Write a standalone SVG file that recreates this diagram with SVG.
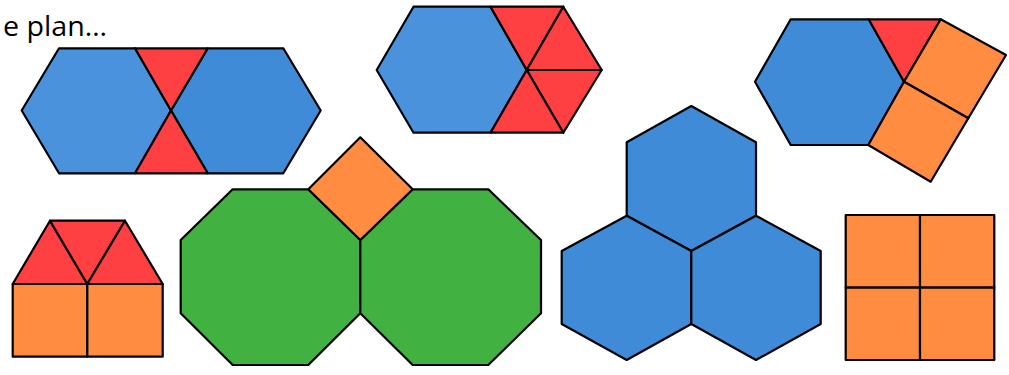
<svg xmlns="http://www.w3.org/2000/svg" width="1009" height="375" viewBox="0 0 1009 375">
<style>
  polygon { stroke: #000; stroke-width: 2.2; stroke-linejoin: round; }
  .b1 { fill: #4A93DC; }
  .b2 { fill: #408BD7; }
  .r { fill: #FF4043; }
  .o { fill: #FF8C40; }
  .g { fill: #41B241; }
  text { font-family: "Open Sans", "Liberation Sans", Arial, sans-serif; font-size: 27px; fill: #000; }
</style>
<rect width="1009" height="375" fill="#fff"/>
<text x="3" y="36" textLength="104" lengthAdjust="spacingAndGlyphs">e plan…</text>

<g id="hex-pair">
  <polygon class="b1" points="21.7,110.5 59,48.3 135,48.3 171,110.5 135,173.3 59,173.3"/>
  <polygon class="b2" points="171,110.5 207.7,48.3 283.3,48.3 320.7,110.5 283.3,173.3 207.7,173.3"/>
  <polygon class="r" points="135,48.3 207.7,48.3 171,110.5"/>
  <polygon class="r" points="135,173.3 207.7,173.3 171,110.5"/>
</g>

<g id="hex-triangles">
  <polygon class="b1" points="376.7,70 413.5,6.7 490.5,6.7 526.7,70 490.5,132.7 413.5,132.7"/>
  <polygon class="r" points="490.5,6.7 563.3,6.7 526.7,70"/>
  <polygon class="r" points="563.3,6.7 601.7,70 526.7,70"/>
  <polygon class="r" points="601.7,70 563.3,132.7 526.7,70"/>
  <polygon class="r" points="563.3,132.7 490.5,132.7 526.7,70"/>
</g>

<g id="hex-squares">
  <polygon class="b2" points="755,81.7 790.7,19.3 868.7,19.3 904,81.7 868.3,145 790.7,145"/>
  <polygon class="r" points="868.7,19.3 940.7,19.3 904,81.7"/>
  <polygon class="o" points="904,81.7 940.7,19.3 1006,55 968.3,118.3"/>
  <polygon class="o" points="904,81.7 968.3,118.3 930.7,181.7 868.3,145"/>
</g>

<g id="house">
  <polygon class="r" points="12.7,284 50,220.7 87.3,284"/>
  <polygon class="r" points="50,220.7 125,220.7 87.3,284"/>
  <polygon class="r" points="87.3,284 125,220.7 162.7,284"/>
  <polygon class="o" points="12.7,284 87.3,284 87.3,356.7 12.7,356.7"/>
  <polygon class="o" points="87.3,284 162.7,284 162.7,356.7 87.3,356.7"/>
</g>

<g id="octagons">
  <polygon class="g" points="232.7,189.3 308.3,189.3 360.3,240 360.3,313.3 308.3,365 232.7,365 180.7,313.3 180.7,240"/>
  <polygon class="g" points="412.7,189.3 488.3,189.3 541,240 541,313.3 488.3,365 412.7,365 360.3,313.3 360.3,240"/>
  <polygon class="o" points="360.3,137.3 412.7,189.3 360.3,240 308.3,189.3"/>
</g>

<g id="hex-triple">
  <polygon class="b2" points="691.3,106 756,142.3 756,215.7 691.3,251 626.7,215.7 626.7,142.3"/>
  <polygon class="b2" points="626.7,215.7 691.3,251 691.3,324 626.7,360 561.7,324 561.7,251"/>
  <polygon class="b2" points="756,215.7 820.7,251 820.7,324 756,360 691.3,324 691.3,251"/>
</g>

<g id="square-grid">
  <polygon class="o" points="845.7,215 920,215 920,287.7 845.7,287.7"/>
  <polygon class="o" points="920,215 994.3,215 994.3,287.7 920,287.7"/>
  <polygon class="o" points="845.7,287.7 920,287.7 920,360 845.7,360"/>
  <polygon class="o" points="920,287.7 994.3,287.7 994.3,360 920,360"/>
</g>

<g id="connectors"></g>
</svg>
